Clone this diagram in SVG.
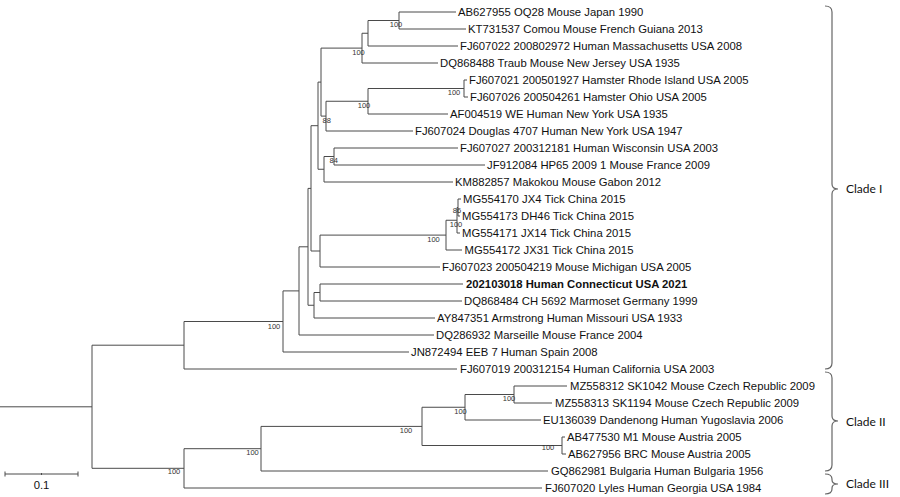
<svg xmlns="http://www.w3.org/2000/svg" width="900" height="497" viewBox="0 0 900 497">
<style>
.br{fill:none;stroke:#4a4a4a;stroke-width:1}
.lf{font-family:"Liberation Sans",Arial,sans-serif;font-size:11.3px;fill:#111}
.bd{font-weight:bold}
.bs{font-family:"Liberation Sans",Arial,sans-serif;font-size:7.5px;fill:#333;text-anchor:middle}
.cl{font-family:Lato,"Liberation Sans",sans-serif;font-size:12px;fill:#111}
.brace{fill:none;stroke:#666;stroke-width:1.2}
</style>
<rect width="900" height="497" fill="#fff"/>
<g id="connectors" class="br">
<path d="M456,12 H399 V29 H466"/>
<path d="M399,20.5 H368 V46 H458"/>
<path d="M368,33.25 H362 V63 H438"/>
<path d="M467,80 H464 V97 H468"/>
<path d="M464,88.5 H368 V114 H448"/>
<path d="M368,101.25 H326 V131 H413"/>
<path d="M362,48.1 H321 V116.1 H326"/>
<path d="M458,148 H334 V165 H485"/>
<path d="M334,156.5 H324 V182 H453"/>
<path d="M321,82.1 H318 V169.25 H324"/>
<path d="M461,199 H458 V216 H460"/>
<path d="M458,207.5 H457 V233 H460"/>
<path d="M457,220.25 H446 V250 H462"/>
<path d="M446,235.1 H320 V267 H440"/>
<path d="M318,125.7 H311 V251 H320"/>
<path d="M463,284 H320 V301 H462"/>
<path d="M320,292.5 H314 V318 H435"/>
<path d="M311,188.4 H308 V305.25 H314"/>
<path d="M308,246.8 H299 V335 H434"/>
<path d="M299,290.9 H283 V352 H409"/>
<path d="M283,321.5 H184 V369 H457"/>
<path d="M567,386 H514 V403 H552"/>
<path d="M514,394.5 H465 V420 H541"/>
<path d="M565,437 H562 V454 H566"/>
<path d="M465,407.25 H422 V445.5 H562"/>
<path d="M422,426.4 H261 V471 H548"/>
<path d="M261,448.7 H184 V488 H542"/>
<path d="M184,345.2 H92 V468.3 H184"/>
<path d="M0,406.8 H92"/>
</g>
<g id="leaves">
<g id="n1"><text class="lf" x="458" y="16">AB627955 OQ28 Mouse Japan 1990</text></g>
<g id="n2"><text class="lf" x="468" y="33">KT731537 Comou Mouse French Guiana 2013</text></g>
<g id="n3"><text class="lf" x="460" y="50">FJ607022 200802972 Human Massachusetts USA 2008</text></g>
<g id="n4"><text class="lf" x="440" y="67">DQ868488 Traub Mouse New Jersey USA 1935</text></g>
<g id="n5"><text class="lf" x="469" y="84">FJ607021 200501927 Hamster Rhode Island USA 2005</text></g>
<g id="n6"><text class="lf" x="470" y="101">FJ607026 200504261 Hamster Ohio USA 2005</text></g>
<g id="n7"><text class="lf" x="450" y="118">AF004519 WE Human New York USA 1935</text></g>
<g id="n8"><text class="lf" x="415" y="135">FJ607024 Douglas 4707 Human New York USA 1947</text></g>
<g id="n9"><text class="lf" x="460" y="152">FJ607027 200312181 Human Wisconsin USA 2003</text></g>
<g id="n10"><text class="lf" x="487" y="169">JF912084 HP65 2009 1 Mouse France 2009</text></g>
<g id="n11"><text class="lf" x="455" y="186">KM882857 Makokou Mouse Gabon 2012</text></g>
<g id="n12"><text class="lf" x="463" y="203">MG554170 JX4 Tick China 2015</text></g>
<g id="n13"><text class="lf" x="462" y="220">MG554173 DH46 Tick China 2015</text></g>
<g id="n14"><text class="lf" x="462" y="237">MG554171 JX14 Tick China 2015</text></g>
<g id="n15"><text class="lf" x="464.5" y="254">MG554172 JX31 Tick China 2015</text></g>
<g id="n16"><text class="lf" x="442" y="271">FJ607023 200504219 Mouse Michigan USA 2005</text></g>
<g id="n17"><text class="lf bd" x="466" y="288">202103018 Human Connecticut USA 2021</text></g>
<g id="n18"><text class="lf" x="464" y="305">DQ868484 CH 5692 Marmoset Germany 1999</text></g>
<g id="n19"><text class="lf" x="437" y="322">AY847351 Armstrong Human Missouri USA 1933</text></g>
<g id="n20"><text class="lf" x="436" y="339">DQ286932 Marseille Mouse France 2004</text></g>
<g id="n21"><text class="lf" x="411" y="356">JN872494 EEB 7 Human Spain 2008</text></g>
<g id="n22"><text class="lf" x="460" y="373">FJ607019 200312154 Human California USA 2003</text></g>
<g id="n23"><text class="lf" x="570" y="390">MZ558312 SK1042 Mouse Czech Republic 2009</text></g>
<g id="n24"><text class="lf" x="555" y="407">MZ558313 SK1194 Mouse Czech Republic 2009</text></g>
<g id="n25"><text class="lf" x="543" y="424">EU136039 Dandenong Human Yugoslavia 2006</text></g>
<g id="n26"><text class="lf" x="567" y="441">AB477530 M1 Mouse Austria 2005</text></g>
<g id="n27"><text class="lf" x="568" y="458">AB627956 BRC Mouse Austria 2005</text></g>
<g id="n28"><text class="lf" x="551" y="475">GQ862981 Bulgaria Human Bulgaria 1956</text></g>
<g id="n29"><text class="lf" x="545" y="492">FJ607020 Lyles Human Georgia USA 1984</text></g>
</g>
<g id="support">
<text class="bs" x="396" y="27">100</text>
<text class="bs" x="358.5" y="54.5">100</text>
<text class="bs" x="454" y="95">100</text>
<text class="bs" x="364" y="107.7">100</text>
<text class="bs" x="326.7" y="122.5">88</text>
<text class="bs" x="333.7" y="163.3">84</text>
<text class="bs" x="457" y="213.3">86</text>
<text class="bs" x="456" y="226.7">100</text>
<text class="bs" x="433.5" y="241.7">100</text>
<text class="bs" x="274" y="328.5">100</text>
<text class="bs" x="509" y="400.7">100</text>
<text class="bs" x="460.5" y="413.7">100</text>
<text class="bs" x="406" y="432.7">100</text>
<text class="bs" x="252.5" y="454.7">100</text>
<text class="bs" x="174" y="474.4">100</text>
<text class="bs" x="548" y="450">100</text>
</g>
<g id="clades">
<g id="cladeI"><path class="brace" d="M825,6 Q832,6 832,12 V184 Q832,189 838,189 Q832,189 832,194 V363 Q832,369 825,369"/><text class="cl" x="846" y="193">Clade I</text></g>
<g id="cladeII"><path class="brace" d="M825,372 Q832,372 832,378 V416 Q832,421 838,421 Q832,421 832,426 V465 Q832,471 825,471"/><text class="cl" x="846" y="426">Clade II</text></g>
<g id="cladeIII"><path class="brace" d="M825,474 Q832,474 832,479 V480 Q832,484 838,484 Q832,484 832,488 V489 Q832,494 825,494"/><text class="cl" x="846" y="488">Clade III</text></g>
</g>
<g id="scale">
<path class="br" d="M5,474 H78 M5,471.5 V476.5 M78,471.5 V476.5 M41.5,473 V475"/>
<text class="lf" x="41.5" y="489" text-anchor="middle">0.1</text>
</g>
</svg>
